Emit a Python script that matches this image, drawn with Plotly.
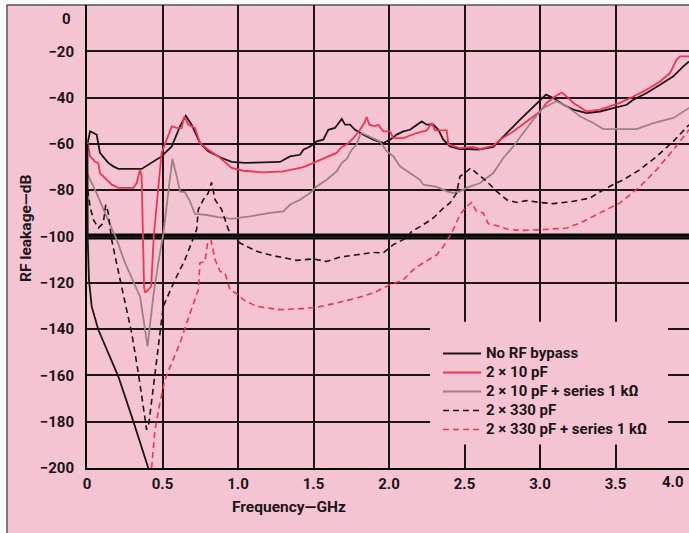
import plotly.graph_objects as go

# ---------------- data ----------------
nobypass_x = [0.005, 0.020, 0.040, 0.064, 0.086, 0.119, 0.139, 0.174, 0.207, 0.362, 0.494, 0.561,
              0.616, 0.654, 0.693, 0.748, 0.803, 0.892, 0.958, 1.046, 1.278, 1.344, 1.411, 1.433,
              1.477, 1.521, 1.565, 1.598, 1.642, 1.687, 1.709, 1.742, 1.775, 1.830, 1.896, 1.962,
              2.007, 2.051, 2.095, 2.139, 2.184, 2.217, 2.250, 2.294, 2.327, 2.360, 2.404, 2.470,
              2.514, 2.592, 2.691, 2.735, 2.801, 2.868, 2.934, 2.989, 3.040, 3.088, 3.155, 3.221,
              3.309, 3.397, 3.485, 3.574, 3.618, 3.706, 3.795, 3.883, 3.949, 3.987]
nobypass_y = [-59.5, -54.6, -55.2, -56.0, -63.9, -66.8, -68.1, -69.7, -70.8, -70.8, -65.4, -61.1,
              -52.4, -47.8, -51.7, -59.6, -63.2, -66.1, -67.8, -68.2, -67.8, -65.4, -64.7, -62.5,
              -61.1, -58.9, -58.2, -53.9, -53.1, -49.2, -51.7, -51.7, -53.9, -56.0, -58.2, -59.6,
              -58.2, -56.0, -54.6, -53.9, -51.7, -50.3, -51.7, -51.7, -53.9, -58.2, -61.1, -62.2,
              -62.2, -62.5, -61.3, -58.2, -53.9, -49.5, -45.2, -41.6, -38.7, -40.2, -43.1, -45.2,
              -46.7, -46.0, -44.5, -43.1, -40.9, -38.0, -34.4, -30.8, -26.5, -24.4]

# low-frequency branch of the solid black trace
nobypass_low_x = [0.003, 0.005, 0.013, 0.031, 0.075, 0.207, 0.296, 0.406]
nobypass_low_y = [-60.0, -101.4, -118.7, -130.2, -140.3, -160.4, -177.7, -200.0]

c10_x = [0.005, 0.020, 0.053, 0.075, 0.086, 0.119, 0.164, 0.207, 0.307, 0.329, 0.351, 0.362,
         0.372, 0.378, 0.384, 0.395, 0.425, 0.442, 0.494, 0.527, 0.561, 0.594, 0.627, 0.644,
         0.671, 0.715, 0.748, 0.803, 0.870, 0.958, 1.035, 1.168, 1.300, 1.433, 1.521, 1.609,
         1.653, 1.687, 1.720, 1.764, 1.808, 1.837, 1.852, 1.870, 1.907, 1.929, 1.962, 2.007,
         2.029, 2.095, 2.184, 2.250, 2.283, 2.305, 2.382, 2.393, 2.470, 2.558, 2.603, 2.691,
         2.735, 2.823, 2.912, 3.000, 3.044, 3.099, 3.143, 3.177, 3.221, 3.309, 3.397, 3.530,
         3.618, 3.706, 3.795, 3.861, 3.905, 3.927, 3.987]
c10_y = [-59.6, -65.4, -67.6, -68.3, -72.6, -74.7, -77.6, -79.0, -79.0, -76.9, -71.1, -74.0,
         -100.0, -122.0, -124.0, -123.7, -121.6, -100.0, -63.9, -58.2, -52.4, -53.1, -53.1, -48.1,
         -51.7, -53.1, -59.6, -62.5, -65.4, -70.4, -71.6, -72.3, -71.9, -70.0, -67.6, -65.4,
         -63.9, -61.3, -60.3, -57.5, -53.9, -51.0, -48.4, -51.7, -52.4, -51.7, -54.6, -54.6,
         -57.5, -57.5, -55.3, -54.2, -51.0, -54.2, -54.2, -60.2, -61.8, -61.3, -62.2, -60.8,
         -58.2, -54.6, -50.3, -46.0, -42.3, -39.5, -37.8, -39.5, -42.3, -46.0, -45.2, -42.3,
         -39.5, -36.6, -33.0, -29.4, -23.6, -22.2, -22.2]

c10r_x = [0.005, 0.053, 0.119, 0.197, 0.252, 0.351, 0.401, 0.439, 0.472, 0.505, 0.538, 0.565,
          0.594, 0.616, 0.649, 0.682, 0.715, 0.781, 0.870, 0.958, 1.079, 1.212, 1.300, 1.344,
          1.411, 1.477, 1.521, 1.587, 1.653, 1.687, 1.720, 1.753, 1.786, 1.808, 1.819, 1.874,
          1.940, 1.985, 2.029, 2.073, 2.139, 2.205, 2.227, 2.316, 2.382, 2.426, 2.470, 2.514,
          2.603, 2.691, 2.757, 2.823, 2.889, 2.955, 3.022, 3.110, 3.177, 3.265, 3.353, 3.419,
          3.640, 3.750, 3.883, 3.987]
c10r_y = [-73.3, -79.8, -89.8, -101.4, -111.4, -125.9, -147.5, -125.9, -111.4, -99.0, -81.2, -66.5,
          -74.0, -80.5, -80.9, -84.8, -90.2, -90.6, -91.6, -92.4, -91.3, -89.8, -89.2, -86.3,
          -84.1, -81.2, -78.4, -75.5, -71.9, -68.3, -66.5, -62.5, -60.3, -56.0, -55.3, -56.8,
          -58.9, -63.2, -65.4, -69.7, -72.6, -75.5, -77.6, -78.6, -80.5, -81.2, -80.5, -79.0,
          -76.9, -72.6, -66.1, -61.1, -55.3, -49.5, -44.5, -41.6, -43.8, -48.1, -51.0, -53.6,
          -53.6, -51.0, -48.8, -44.5]

c330_x = [0.005, 0.020, 0.042, 0.075, 0.108, 0.124, 0.141, 0.163, 0.229, 0.296, 0.340, 0.395,
          0.410, 0.450, 0.505, 0.583, 0.649, 0.726, 0.737, 0.770, 0.803, 0.825, 0.848, 0.892,
          0.936, 0.969, 1.013, 1.124, 1.234, 1.389, 1.499, 1.587, 1.675, 1.786, 1.896, 1.962,
          2.029, 2.117, 2.150, 2.227, 2.294, 2.360, 2.404, 2.448, 2.470, 2.503, 2.541, 2.580,
          2.647, 2.713, 2.779, 2.846, 2.912, 3.000, 3.088, 3.221, 3.331, 3.441, 3.552, 3.662,
          3.773, 3.883, 3.987]
c330_y = [-79.8, -87.0, -92.7, -96.3, -94.2, -86.3, -89.8, -101.4, -121.6, -141.7, -159.0, -183.5,
          -180.6, -159.0, -130.2, -118.7, -110.0, -97.0, -88.4, -84.1, -81.2, -76.6, -84.1, -88.4,
          -97.0, -100.0, -102.8, -106.4, -108.3, -110.3, -109.7, -110.8, -108.9, -107.9, -106.9, -107.1,
          -103.5, -100.6, -97.8, -94.9, -92.0, -87.7, -85.5, -81.2, -74.0, -72.6, -70.4, -72.6,
          -76.2, -80.5, -84.1, -85.3, -84.5, -85.3, -85.8, -84.8, -83.4, -79.0, -75.5, -71.1,
          -65.4, -58.9, -51.7]

c330r_x = [0.428, 0.450, 0.483, 0.516, 0.561, 0.616, 0.660, 0.704, 0.737, 0.748, 0.781, 0.799,
           0.821, 0.848, 0.881, 0.914, 0.947, 1.002, 1.035, 1.124, 1.278, 1.389, 1.521, 1.653,
           1.786, 1.896, 2.007, 2.095, 2.161, 2.227, 2.316, 2.360, 2.404, 2.415, 2.470, 2.514,
           2.547, 2.580, 2.624, 2.658, 2.735, 2.779, 2.868, 3.000, 3.177, 3.265, 3.397, 3.530,
           3.662, 3.773, 3.883, 3.987]
c330r_y = [-200.0, -183.5, -171.9, -161.9, -154.6, -146.0, -137.4, -128.7, -123.0, -111.4, -110.8, -102.8,
           -101.4, -110.0, -115.1, -115.8, -123.0, -125.1, -127.3, -130.2, -131.6, -131.3, -130.6, -128.7,
           -126.6, -124.4, -120.8, -118.7, -114.3, -111.4, -107.9, -104.3, -100.0, -98.5, -90.6, -87.0,
           -85.3, -89.2, -89.8, -94.5, -95.6, -96.8, -97.4, -97.1, -96.3, -94.2, -89.8, -85.5,
           -78.4, -71.1, -62.5, -53.9]

series_names = ["No RF bypass", "2 \u00d7 10 pF", "2 \u00d7 10 pF + series 1 k\u03a9",
                "2 \u00d7 330 pF", "2 \u00d7 330 pF + series 1 k\u03a9"]

x_tick_vals = [0, 0.5, 1.0, 1.5, 2.0, 2.5, 3.0, 3.5]
x_tick_text = ["0", "0.5", "1.0", "1.5", "2.0", "2.5", "3.0", "3.5"]
y_tick_vals = [-20, -40, -60, -80, -100, -120, -140, -160, -180, -200]
y_tick_text = ["\u221220", "\u221240", "\u221260", "\u221280", "\u2212100", "\u2212120",
               "\u2212140", "\u2212160", "\u2212180", "\u2212200"]
reference_level = -100

# ---------------- styling ----------------
PINK = "#F5C4D2"
BLACK = "#1c1416"
RED = "#EE3552"
BROWN = "#9E8282"
FONT = "Roboto, Liberation Sans, sans-serif"
XMAX = (689 - 87) / 151.0


def legend_label(name):
    return '<span style="font-size:15px">' + name + "</span>"


fig = go.Figure()
fig.add_trace(go.Scatter(x=nobypass_x, y=nobypass_y, mode="lines", name=legend_label(series_names[0]),
                         line=dict(color=BLACK, width=1.8)))
fig.add_trace(go.Scatter(x=c10_x, y=c10_y, mode="lines", name=legend_label(series_names[1]),
                         line=dict(color=RED, width=1.8)))
fig.add_trace(go.Scatter(x=c10r_x, y=c10r_y, mode="lines", name=legend_label(series_names[2]),
                         line=dict(color=BROWN, width=1.8)))
fig.add_trace(go.Scatter(x=c330_x, y=c330_y, mode="lines", name=legend_label(series_names[3]),
                         line=dict(color=BLACK, width=1.6, dash="6px,4px")))
fig.add_trace(go.Scatter(x=c330r_x, y=c330r_y, mode="lines", name=legend_label(series_names[4]),
                         line=dict(color=RED, width=1.6, dash="6px,4px")))
fig.add_trace(go.Scatter(x=nobypass_low_x, y=nobypass_low_y, mode="lines", showlegend=False,
                         name=series_names[0], line=dict(color=BLACK, width=1.8)))

shapes = [
    # page background frame
    dict(type="rect", xref="paper", yref="paper", x0=-80 / 602, x1=1.01, y0=-0.2, y1=1.0,
         fillcolor=PINK, line=dict(color="#555555", width=1.5), layer="below"),
    # legend backing (hides grid lines)
    dict(type="rect", xref="x", yref="y", x0=2.272, x1=3.848, y0=-189.9, y1=-136.8,
         fillcolor=PINK, line=dict(width=0), layer="between"),
    # reference level line
    dict(type="line", xref="paper", yref="y", x0=0, x1=1, y0=reference_level, y1=reference_level,
         line=dict(color="#000000", width=6), layer="between"),
]

annotations = [
    dict(text="0", xref="paper", yref="paper", x=(73 - 87) / 602, y=(468 - 19) / 463,
         xanchor="right", yanchor="middle", showarrow=False,
         font=dict(family=FONT, size=15, color=BLACK, weight="bold")),
    dict(text="4.0", xref="paper", yref="paper", x=(673 - 87) / 602, y=-(482 - 468) / 463,
         xanchor="center", yanchor="middle", showarrow=False,
         font=dict(family=FONT, size=15, color=BLACK, weight="bold")),
    dict(text="Frequency\u2014GHz", xref="paper", yref="paper", x=(289 - 87) / 602,
         y=-(507 - 468) / 463, xanchor="center", yanchor="middle", showarrow=False,
         font=dict(family=FONT, size=15.5, color=BLACK, weight="bold")),
    dict(text="RF leakage\u2014dB", xref="paper", yref="paper", x=(26 - 87) / 602,
         y=(468 - 229) / 463, xanchor="center", yanchor="middle", showarrow=False, textangle=-90,
         font=dict(family=FONT, size=15.5, color=BLACK, weight="bold")),
]

fig.update_layout(
    width=689, height=533,
    margin=dict(l=87, r=0, t=5, b=65, pad=0, autoexpand=False),
    paper_bgcolor="#FAFAFA", plot_bgcolor=PINK,
    showlegend=True,
    legend=dict(x=(438 - 87) / 602, y=(468 - 339) / 463, xanchor="left", yanchor="top",
                bgcolor="rgba(0,0,0,0)", borderwidth=0,
                font=dict(family=FONT, size=12, color=BLACK, weight="bold"),
                tracegroupgap=0, itemwidth=38),
    shapes=shapes, annotations=annotations,
    xaxis=dict(range=[0, XMAX], tickvals=x_tick_vals, ticktext=x_tick_text, showgrid=True,
               gridcolor=BLACK, gridwidth=1.5, zeroline=False, showline=True, linecolor="#000000",
               linewidth=2, ticks="", ticklabelstandoff=1, automargin=False,
               tickfont=dict(family=FONT, size=15, color=BLACK, weight="bold")),
    yaxis=dict(range=[-200, 0], tickvals=y_tick_vals, ticktext=y_tick_text, showgrid=True,
               gridcolor=BLACK, gridwidth=1.5, zeroline=False, showline=True, linecolor="#000000",
               linewidth=2, ticks="", ticklabelstandoff=8, automargin=False,
               tickfont=dict(family=FONT, size=15, color=BLACK, weight="bold")),
)

fig.write_html("out.html", config={"displayModeBar": False},
               post_script="document.body.style.margin='0';")
